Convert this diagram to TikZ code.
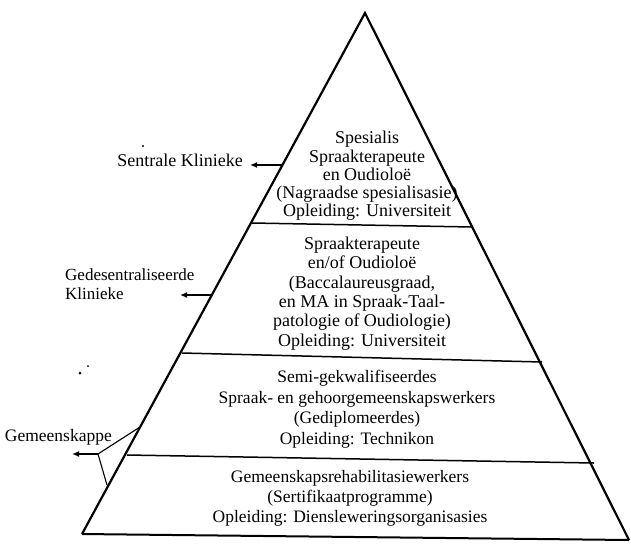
\documentclass[tikz,border=0pt]{standalone}
\usepackage{fontspec}
\setmainfont{Liberation Serif}
\usetikzlibrary{arrows.meta}
\begin{document}
\begin{tikzpicture}[x=1pt,y=-1pt,
  side/.style={line width=2.2pt, line join=miter},
  sep/.style={line width=1.5pt},
  lead/.style={line width=1.1pt},
  arr/.style={line width=2.2pt,-{Latex[length=7pt,width=6pt]}},
  tier/.style={align=center,inner sep=0pt},
  lab/.style={font=\fontsize{17.5}{19.5}\selectfont,inner sep=0pt}]
\useasboundingbox (0,0) rectangle (631,544);
% pyramid
\coordinate (apex) at (365,13);
\coordinate (bl) at (82,534);
\coordinate (br) at (629,540);
\coordinate (l1) at (252,223); \coordinate (r1) at (472,227);
\coordinate (l2) at (182,353); \coordinate (r2) at (542,362);
\coordinate (l3) at (127,455); \coordinate (r3) at (594,463);
\draw[side] (bl) -- (apex) -- (br);
\draw[line width=2pt] (bl) -- (br);
\draw[sep] (l1) -- (r1);
\draw[sep] (l2) -- (r2);
\draw[sep] (l3) -- (r3);
% tiers
\node[tier,font=\fontsize{18}{18.2}\selectfont] (t1) at (367,176) {Spesialis\\Spraakterapeute\\en Oudioloë\\(Nagraadse spesialisasie)\\Opleiding: Universiteit};
\node[tier,font=\fontsize{18}{19.4}\selectfont] (t2) at (362,293.5) {Spraakterapeute\\en/of Oudioloë\\(Baccalaureusgraad,\\en MA in Spraak-Taal-\\patologie of Oudiologie)\\Opleiding: Universiteit};
\node[tier,font=\fontsize{17.5}{20.5}\selectfont] (t3) at (357,409) {Semi-gekwalifiseerdes\\Spraak- en gehoorgemeenskapswerkers\\(Gediplomeerdes)\\Opleiding: Technikon};
\node[tier,font=\fontsize{17.5}{20}\selectfont] (t4) at (350,498) {Gemeenskapsrehabilitasiewerkers\\(Sertifikaatprogramme)\\Opleiding: Diensleweringsorganisasies};
% left labels
\node[lab,anchor=east,font=\fontsize{18}{20}\selectfont] (sk) at (243,160) {Sentrale Klinieke};
\coordinate (sa) at (283,165);
\draw[arr] (sa) -- ([xshift=7pt]sa -| sk.east);
\node[lab,anchor=west,align=left,font=\fontsize{17}{19}\selectfont] (gk) at (65,284.5) {Gedesentraliseerde\\Klinieke};
\coordinate (ga) at (213,295);
\coordinate (gt) at (180,295);
\draw[arr] (ga) -- (gt);
\node[lab,anchor=east] (gm) at (112,437) {Gemeenskappe};
\coordinate (p1) at (140,427);
\coordinate (v) at (98,454);
\coordinate (p2) at (107,485);
\coordinate (mt) at (72,454);
\draw[lead] (p1) -- (v) -- (p2);
\draw[arr] (v) -- (mt);
% specks
\fill (143,146) circle (1.1);
\fill (80,373) circle (1.5);
\fill (88,366) circle (1);
\end{tikzpicture}
\end{document}
